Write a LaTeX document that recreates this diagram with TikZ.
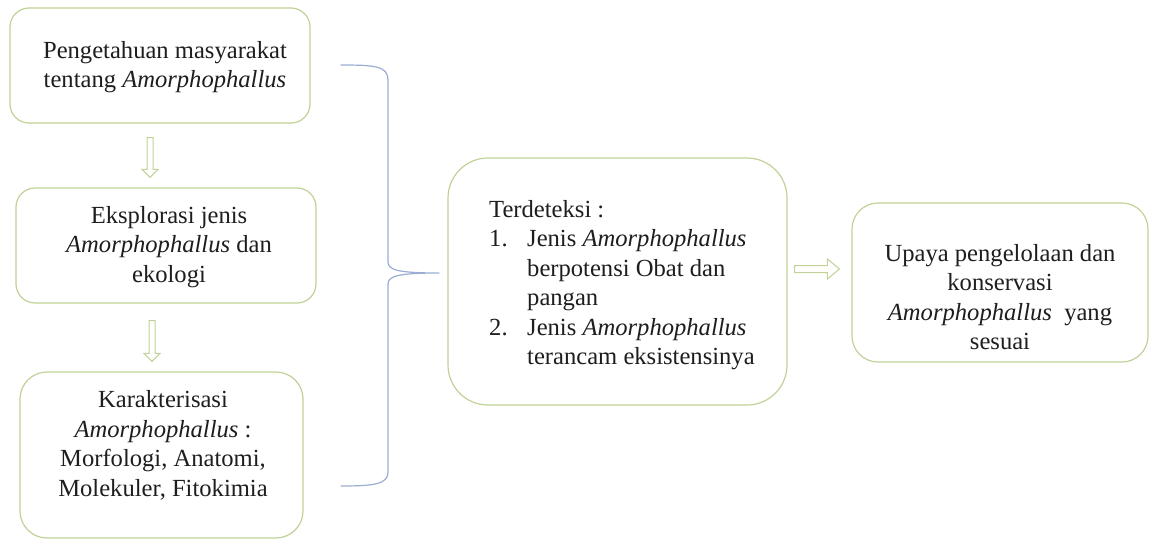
\documentclass[tikz,border=0pt]{standalone}
\usepackage{fontspec}
\setmainfont{Liberation Serif}
\usetikzlibrary{calc}
\definecolor{boxgreen}{RGB}{192,210,152}
\definecolor{bracecol}{RGB}{155,174,210}
\definecolor{txtcol}{RGB}{30,30,30}
\begin{document}
\begin{tikzpicture}[x=1pt,y=-1pt,
  box/.style={draw=boxgreen, line width=1.2pt, fill=white, inner sep=0pt},
  txt/.style={font=\fontsize{24.6}{29.5}\selectfont, text=txtcol, inner sep=0pt, align=center},
  harrow/.style={draw=boxgreen, line width=1pt, fill=white, line join=miter},
  brace/.style={draw=bracecol, line width=1.2pt}]
\useasboundingbox (0,0) rectangle (1150,541);
\fill[white] (0,0) rectangle (1150,541);

% boxes
\node[box, rounded corners=19pt, minimum width=300pt, minimum height=115pt] (b1) at (160,65.5) {};
\node[box, rounded corners=19pt, minimum width=300pt, minimum height=115pt] (b2) at (166,245.5) {};
\node[box, rounded corners=27pt, minimum width=283pt, minimum height=166pt] (b3) at (161.5,455) {};
\node[box, rounded corners=40pt, minimum width=339pt, minimum height=247pt] (bm) at (617.5,281.5) {};
\node[box, rounded corners=26pt, minimum width=296pt, minimum height=159pt] (br) at (1000,282.5) {};

% texts
\node[txt] (t1) at (165,67) {Pengetahuan masyarakat\\tentang \textit{Amorphophallus}};
\node[txt] (t2) at (169,247) {Eksplorasi jenis\\\textit{Amorphophallus} dan\\ekologi};
\node[txt] (t3) at (163,445.5) {Karakterisasi\\\textit{Amorphophallus} :\\Morfologi, Anatomi,\\Molekuler, Fitokimia};
\node[txt, align=left, anchor=west] (tm) at (489,285) {Terdeteksi :\\\makebox[38pt][l]{1.}Jenis \textit{Amorphophallus}\\\hspace*{38pt}berpotensi Obat dan\\\hspace*{38pt}pangan\\\makebox[38pt][l]{2.}Jenis \textit{Amorphophallus}\\\hspace*{38pt}terancam eksistensinya};
\node[txt] (tr) at (1000,297) {Upaya pengelolaan dan\\konservasi\\\textit{Amorphophallus}\ \ yang\\sesuai};

% hollow block arrows
\coordinate (a1s) at ($(b1.south)+(-10,14)$);
\coordinate (a1e) at ($(b2.north)+(-16,-10)$);
\draw[harrow] ($(a1s)+(-3,0)$) -- ($(a1s)+(3,0)$) -- ($(a1e)+(3,-8)$) -- ($(a1e)+(8,-8)$) -- (a1e)
  -- ($(a1e)+(-8,-8)$) -- ($(a1e)+(-3,-8)$) -- cycle;

\coordinate (a2s) at ($(b2.south)+(-14,17)$);
\coordinate (a2e) at ($(b3.north)+(-9.5,-10)$);
\draw[harrow] ($(a2s)+(-3,0)$) -- ($(a2s)+(3,0)$) -- ($(a2e)+(3,-8)$) -- ($(a2e)+(8,-8)$) -- (a2e)
  -- ($(a2e)+(-8,-8)$) -- ($(a2e)+(-3,-8)$) -- cycle;

\coordinate (a3s) at ($(bm.east)+(7,-12.5)$);
\coordinate (a3e) at ($(br.west)+(-12,-13.5)$);
\draw[harrow] ($(a3s)+(0,-3.5)$) -- ($(a3e)+(-12,-3.5)$) -- ($(a3e)+(-12,-10)$) -- (a3e)
  -- ($(a3e)+(-12,10)$) -- ($(a3e)+(-12,3.5)$) -- ($(a3s)+(0,3.5)$) -- cycle;

% brace
\coordinate (bt) at ($(b1.east)+(30,-0.5)$);
\coordinate (bb) at ($(b3.east)+(37,31)$);
\coordinate (btip) at ($(bm.west)+(-8,-8.5)$);
\draw[brace] (bt) .. controls (375,65) and (388,66) .. (388,80) -- (388,262)
  .. controls (388,270) and (398,273) .. (btip)
  .. controls (398,273) and (388,276) .. (388,284) -- (388,472)
  .. controls (388,484) and (375,486) .. (bb);
\end{tikzpicture}
\end{document}
